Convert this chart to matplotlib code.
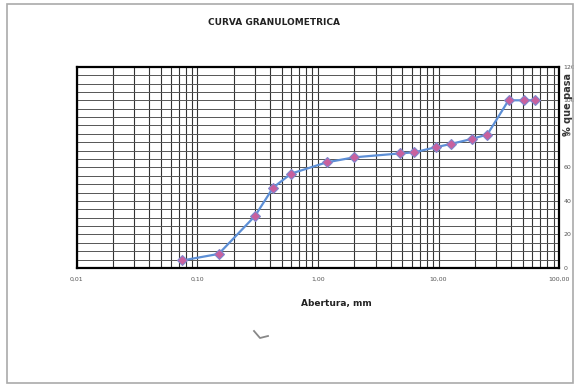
import numpy as np
import matplotlib
matplotlib.use("Agg")
from matplotlib import pyplot as plt
from matplotlib.patches import Rectangle
from matplotlib.lines import Line2D
from matplotlib.ticker import FixedLocator, FixedFormatter, LogLocator

#%% data
abertura = [0.075, 0.15, 0.30, 0.425, 0.60, 1.18, 2.00, 4.75, 6.30,
            9.50, 12.70, 19.00, 25.40, 38.10, 50.80, 63.50]
pasa = [4.5, 8.4, 31.0, 48.0, 56.3, 63.0, 66.0, 68.3, 69.0,
        72.0, 74.0, 77.0, 79.6, 100.0, 100.0, 100.0]

x_ticks = [0.01, 0.1, 1, 10, 100]
x_labels = ["0,01", "0,10", "1,00", "10,00", "100,00"]
y_ticks = [0, 20, 40, 60, 80, 100, 120]

#%%
fig = plt.figure(figsize=(5.74, 3.87), dpi=100)
ax = fig.add_axes([0.134, 0.3075, 0.840, 0.520])

ax.plot(abertura, pasa, color="#5d8fd6", lw=1.6, zorder=3,
        marker="D", markersize=5.5, markerfacecolor="#c8609e",
        markeredgecolor="#7f86cc", markeredgewidth=0.8)

ax.set_xscale("log")
ax.set_xlim(0.01, 100)
ax.set_ylim(0, 120)

ax.xaxis.set_major_locator(FixedLocator(x_ticks))
ax.xaxis.set_major_formatter(FixedFormatter(x_labels))
ax.xaxis.set_minor_locator(LogLocator(base=10, subs=np.arange(2, 10)))
ax.xaxis.set_minor_formatter(FixedFormatter([]))
ax.set_yticks(y_ticks)
ax.set_yticks(np.arange(0, 121, 5), minor=True)
ax.yaxis.tick_right()

ax.grid(True, which="both", axis="x", color="#333333", lw=0.8)
ax.grid(True, which="both", axis="y", color="#555555", lw=0.7)
ax.set_axisbelow(True)
ax.tick_params(which="both", length=0, labelsize=4.5, colors="#555555")
ax.tick_params(axis="x", pad=6)
ax.tick_params(axis="y", pad=3)
for s in ax.spines.values():
    s.set_linewidth(1.6)
    s.set_color("black")

fig.text(0.478, 0.943, "CURVA GRANULOMETRICA", ha="center", va="center",
         fontsize=6.5, fontweight="bold", color="#222222")
fig.text(0.586, 0.215, "Abertura, mm", ha="center", va="center",
         fontsize=6.5, fontweight="bold", color="#222222")
fig.text(0.99, 0.73, "% que pasa", ha="center", va="center", rotation=90,
         fontsize=7, fontweight="bold", color="#333333")

# scanned page border and pen mark
fig.patches.append(Rectangle((7 / 574, 4 / 387), 566 / 574, 379 / 387,
                             transform=fig.transFigure, fill=False,
                             edgecolor="#aaaaaa", lw=1.2))
fig.lines.append(Line2D([254 / 574, 260 / 574, 268 / 574],
                        [1 - 331 / 387, 1 - 338 / 387, 1 - 336 / 387],
                        transform=fig.transFigure, color="#888888", lw=1.3))

fig.savefig("out.png", dpi=100, facecolor="white")
